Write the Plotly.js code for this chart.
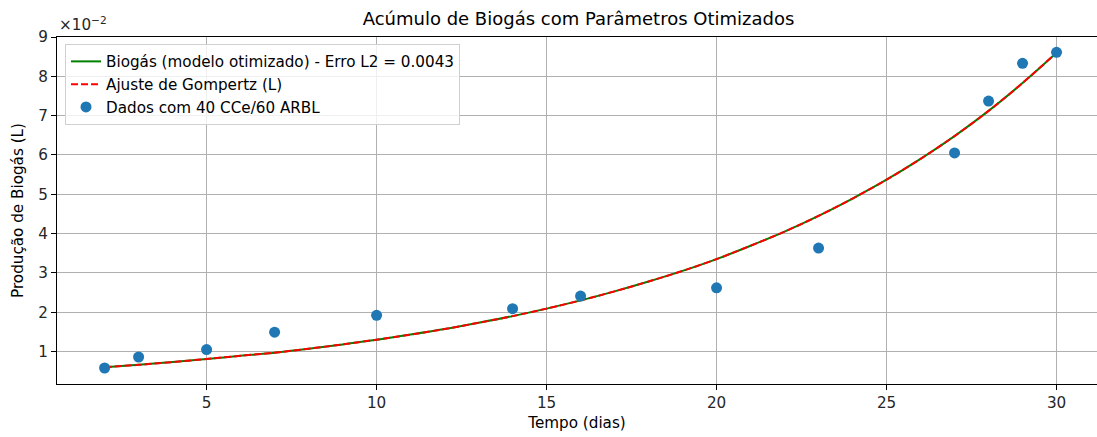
<!DOCTYPE html>
<html>
<head>
<meta charset="utf-8">
<script src="https://cdn.plot.ly/plotly-3.0.1.min.js"></script>
<style>
html,body{margin:0;padding:0;background:#fff;}
#chart{width:1097px;height:437px;}
</style>
</head>
<body>
<div id="chart"></div>
<script>
// Observed data (days, litres)
const dataDays = [2, 3, 5, 7, 10, 14, 16, 20, 23, 27, 28, 29, 30];
const dataBiogas = [0.0058, 0.0086, 0.0105, 0.0149, 0.0192, 0.0209, 0.0241, 0.0262, 0.0363, 0.0605, 0.0737, 0.0833, 0.0861];

// Model curve (days, litres)
const modelDays = [2, 3, 4, 5, 6, 7, 8, 9, 10, 11, 12, 13, 14, 15, 16, 17, 18, 19, 20, 21, 22, 23, 24, 25, 26, 27, 28, 29, 30];
const modelBiogas = [0.0060, 0.0066, 0.0073, 0.0081, 0.0089, 0.0097, 0.0107, 0.0118, 0.0130, 0.0143, 0.0157, 0.0173, 0.0190, 0.0209, 0.0230, 0.0253, 0.0278, 0.0305, 0.0335, 0.0369, 0.0405, 0.0445, 0.0489, 0.0537, 0.0590, 0.0648, 0.0712, 0.0783, 0.0860];
const gompertzBiogas = [0.0060, 0.0066, 0.0073, 0.0081, 0.0089, 0.0097, 0.0107, 0.0118, 0.0130, 0.0143, 0.0157, 0.0173, 0.0190, 0.0209, 0.0230, 0.0253, 0.0278, 0.0305, 0.0335, 0.0369, 0.0405, 0.0445, 0.0489, 0.0537, 0.0590, 0.0648, 0.0712, 0.0783, 0.0860];

// Tick labels
const xTickVals = [5, 10, 15, 20, 25, 30];
const xTickText = ['5', '10', '15', '20', '25', '30'];
const yTickVals = [0.01, 0.02, 0.03, 0.04, 0.05, 0.06, 0.07, 0.08, 0.09];
const yTickText = ['1', '2', '3', '4', '5', '6', '7', '8', '9'];

const FONT = 'DejaVu Sans, sans-serif';
const FS = 15.2;

const traces = [
  {
    x: modelDays, y: modelBiogas, type: 'scatter', mode: 'lines',
    name: 'Biogás (modelo otimizado) - Erro L2 = 0.0043',
    line: {color: '#008000', width: 2, shape: 'spline'}
  },
  {
    x: modelDays, y: gompertzBiogas, type: 'scatter', mode: 'lines',
    name: 'Ajuste de Gompertz (L)',
    line: {color: '#ff0000', width: 2, dash: '7px,3px', shape: 'spline'}
  },
  {
    x: dataDays, y: dataBiogas, type: 'scatter', mode: 'markers',
    name: 'Dados com 40 CCe/60 ARBL',
    marker: {color: '#1f77b4', size: 11}
  }
];

const layout = {
  width: 1097, height: 437,
  margin: {l: 57, r: 0, t: 37, b: 53, pad: 0},
  paper_bgcolor: '#ffffff', plot_bgcolor: '#ffffff',
  font: {family: FONT, size: FS, color: '#262626'},
  showlegend: true,
  title: {
    text: 'Acúmulo de Biogás com Parâmetros Otimizados',
    font: {family: FONT, size: 18, color: '#000'},
    x: 578.5 / 1097, xref: 'container', xanchor: 'center',
    y: 1 - 19 / 437, yref: 'container', yanchor: 'middle'
  },
  xaxis: {
    range: [0.6, 31.19],
    tickmode: 'array', tickvals: xTickVals, ticktext: xTickText,
    ticks: 'outside', ticklen: 5, tickwidth: 1, tickcolor: '#000',
    showgrid: true, gridcolor: '#b0b0b0', gridwidth: 1,
    showline: true, linecolor: '#000', linewidth: 1, mirror: true,
    zeroline: false,
    tickfont: {family: FONT, size: FS, color: '#262626'},
    title: {text: 'Tempo (dias)', font: {family: FONT, size: FS, color: '#000'}, standoff: 6}
  },
  yaxis: {
    range: [0.00173, 0.0900],
    tickmode: 'array', tickvals: yTickVals, ticktext: yTickText,
    ticks: 'outside', ticklen: 5, tickwidth: 1, tickcolor: '#000',
    showgrid: true, gridcolor: '#b0b0b0', gridwidth: 1,
    showline: true, linecolor: '#000', linewidth: 1, mirror: false,
    zeroline: false,
    tickfont: {family: FONT, size: FS, color: '#262626'},
    title: {text: 'Produção de Biogás (L)', font: {family: FONT, size: FS, color: '#000'}, standoff: 10}
  },
  legend: {
    x: (65 - 57) / 1040, y: 1 - (44 - 37) / 347,
    xanchor: 'left', yanchor: 'top',
    bgcolor: 'rgba(255,255,255,0.8)', bordercolor: '#d0d0d0', borderwidth: 1,
    font: {family: FONT, size: FS, color: '#000'},
    tracegroupgap: 0
  },
  annotations: [
    {
      text: '×10<sup>−2</sup>', xref: 'paper', yref: 'paper',
      x: 0, y: 1, xanchor: 'left', yanchor: 'bottom', yshift: 1, xshift: 0,
      showarrow: false, font: {family: FONT, size: FS, color: '#262626'}
    }
  ]
};

Plotly.newPlot('chart', traces, layout, {displayModeBar: false, staticPlot: true});
</script>
</body>
</html>
